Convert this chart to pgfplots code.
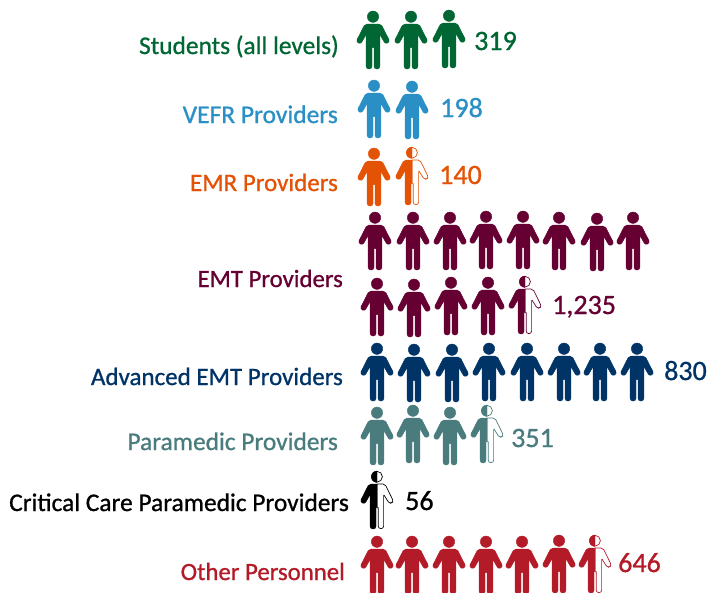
\documentclass[border=0pt]{standalone}
\usepackage{fontspec}
\setmainfont[FakeBold=0.9]{Carlito}
\usepackage{pgfplots}
\pgfplotsset{compat=1.18}

\definecolor{cgreen}{HTML}{006633}
\definecolor{cblue}{HTML}{2A8FC4}
\definecolor{corange}{HTML}{E35205}
\definecolor{cmaroon}{HTML}{660033}
\definecolor{cnavy}{HTML}{003366}
\definecolor{cteal}{HTML}{4A7C7E}
\definecolor{cred}{HTML}{B31B28}

% half of the figure around its centre, #1 = 1 right, -1 left; 1pt = 1px
\newcommand{\halfbody}[1]{({#1*-0.25pt},16pt) [rounded corners=2pt] -- ({#1*8pt},16pt) [rounded corners=2.4pt] -- ({#1*17pt},-1.6pt) -- ({#1*12.4pt},-4.2pt) [rounded corners=1pt] -- ({#1*6.9pt},5.5pt) [sharp corners] -- ({#1*6.9pt},-20pt) [rounded corners=2.7pt] -- ({#1*6.9pt},-29pt) -- ({#1*1pt},-29pt) [sharp corners] -- ({#1*1pt},-7.7pt) -- ({#1*-0.25pt},-7.7pt) -- cycle}

\pgfdeclareplotmark{person}{%
  \fill \halfbody{1};
  \fill \halfbody{-1};
  \fill (0pt,23.3pt) circle (5.7pt);
}
\pgfdeclareplotmark{halfperson}{%
  \filldraw[fill=white,line width=0.7pt] (0pt,23.3pt) circle (5.4pt);
  \draw[fill=white,line width=0.7pt] (0pt,16pt) [rounded corners=2pt] -- (8pt,16pt) [rounded corners=2.4pt] -- (16.6pt,-1.6pt) -- (12.6pt,-3.8pt) [rounded corners=1pt] -- (6.6pt,5.5pt) [sharp corners] -- (6.6pt,-20pt) [rounded corners=2.5pt] -- (6.6pt,-28.6pt) -- (1.2pt,-28.6pt) [sharp corners] -- (1.2pt,-7.7pt) -- (0pt,-7.7pt);
  \fill \halfbody{-1};
  \fill (0pt,29pt) arc (90:270:5.7pt) -- cycle;
}

\pgfplotsset{
  pict/.style={only marks,mark=person,color=#1},
  picthalf/.style={only marks,mark=halfperson,color=#1},
}
\tikzset{
  lab/.style={anchor=base east,inner sep=0pt,font=\fontsize{#1}{27}\selectfont},
  num/.style={anchor=base west,inner sep=0pt,font=\fontsize{28}{30}\selectfont},
}

\begin{document}
\begin{tikzpicture}
\useasboundingbox (0,0) rectangle (708pt,592pt);
\begin{axis}[at={(0,0)},anchor=south west,width=708pt,height=592pt,scale only axis,
  xmin=0,xmax=708,ymin=0,ymax=592,y dir=reverse,hide axis,clip=false]
% students
\addplot[pict=cgreen] coordinates {(373,40)(411,40)(449,39)};
% vefr
\addplot[pict=cblue] coordinates {(374,109)(412,110)};
% emr
\addplot[pict=corange] coordinates {(374,177)};
\addplot[picthalf=corange] coordinates {(412,176)};
% emt
\addplot[pict=cmaroon] coordinates {(375,241)(413,241)(450,241)(486,240)(523,240)(559,241)(597,242)(633,241)
  (377,307)(414,308)(451,306)(488,306)};
\addplot[picthalf=cmaroon] coordinates {(525,305)};
% advanced emt
\addplot[pict=cnavy] coordinates {(377,372)(414,373)(452,373)(489,372)(527,372)(564,372)(600,372)(637,372)};
% paramedic
\addplot[pict=cteal] coordinates {(377,436)(413,434)(450,436)};
\addplot[picthalf=cteal] coordinates {(487,434)};
% critical care
\addplot[picthalf=black] coordinates {(377,500)};
% other
\addplot[pict=cred] coordinates {(377,565)(412,565)(449,565)(486,565)(522,565)(559,564)};
\addplot[picthalf=cred] coordinates {(595,564)};

\node[lab=25.4,text=cgreen] at (axis cs:339,54) {Students (all levels)};
\node[lab=25.5,text=cblue] at (axis cs:338,123) {VEFR Providers};
\node[lab=25,text=corange] at (axis cs:338,191) {EMR Providers};
\node[lab=24.8,text=cmaroon] at (axis cs:343,287) {EMT Providers};
\node[lab=25,text=cnavy] at (axis cs:343,385) {Advanced EMT Providers};
\node[lab=25.4,text=cteal] at (axis cs:338,450) {Paramedic Providers};
\node[lab=25.4,text=black] at (axis cs:349,511) {Critical Care Paramedic Providers};
\node[lab=24.8,text=cred] at (axis cs:345,580) {Other Personnel};

\node[num,text=cgreen] at (axis cs:474,50) {319};
\node[num,text=cblue] at (axis cs:440,117) {198};
\node[num,text=corange] at (axis cs:439,184) {140};
\node[num,text=cmaroon] at (axis cs:552,314) {1,235};
\node[num,text=cnavy] at (axis cs:664,380) {830};
\node[num,text=cteal] at (axis cs:511,447) {351};
\node[num,text=black] at (axis cs:405,510) {56};
\node[num,text=cred] at (axis cs:618,572) {646};
\end{axis}
\end{tikzpicture}
\end{document}
